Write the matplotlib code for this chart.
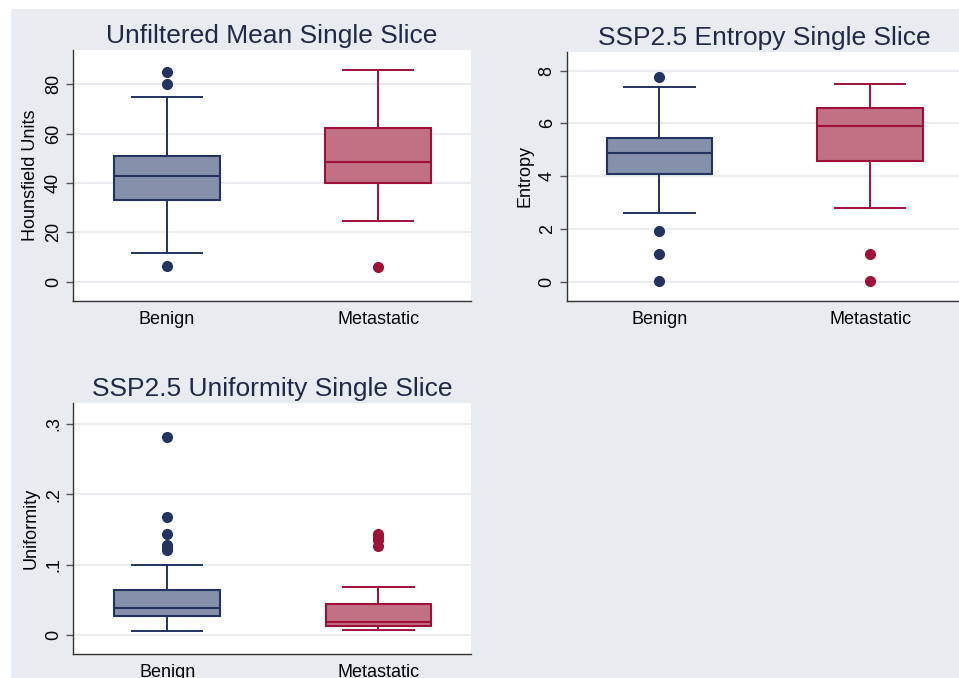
import matplotlib.pyplot as plt
from matplotlib.patches import Rectangle

plt.rcParams.update({"font.family": ["Liberation Sans", "DejaVu Sans"]})

groups = ["Benign", "Metastatic"]

# Unfiltered mean (Hounsfield units)
mean_q1 = [33.0, 40.1]
mean_med = [42.9, 48.6]
mean_q3 = [51.0, 62.1]
mean_lo = [11.6, 24.7]
mean_hi = [75.0, 85.6]
mean_out = [[85.0, 80.3, 6.4], [6.0]]

# SSP2.5 entropy
ent_q1 = [4.09, 4.59]
ent_med = [4.87, 5.90]
ent_q3 = [5.46, 6.60]
ent_lo = [2.59, 2.81]
ent_hi = [7.38, 7.48]
ent_out = [[7.75, 1.93, 1.04, 0.03], [1.04, 0.03]]

# SSP2.5 uniformity
uni_q1 = [0.027, 0.0133]
uni_med = [0.038, 0.0185]
uni_q3 = [0.064, 0.0436]
uni_lo = [0.0057, 0.0066]
uni_hi = [0.100, 0.0687]
uni_out = [[0.2815, 0.168, 0.1436, 0.128, 0.124, 0.121], [0.143, 0.139, 0.135, 0.127]]

fill_colors = ["#8590aa", "#c27083"]
edge_colors = ["#22335f", "#9e1038"]
bg = "#e8ecf1"
title_color = "#1f2a48"


def stats_for(q1, med, q3, lo, hi, out):
    return [
        {"q1": q1[i], "med": med[i], "q3": q3[i], "whislo": lo[i], "whishi": hi[i],
         "fliers": out[i], "label": groups[i]}
        for i in range(len(groups))
    ]


def draw_panel(ax, stats, title, ylabel, yticks, yticklabels, ylim, xlim):
    for i, st in enumerate(stats):
        ec = edge_colors[i]
        ax.bxp(
            [st],
            positions=[i + 1],
            widths=0.5,
            patch_artist=True,
            showfliers=True,
            boxprops=dict(facecolor=fill_colors[i], edgecolor=ec, linewidth=1.5),
            medianprops=dict(color=ec, linewidth=1.5),
            whiskerprops=dict(color=ec, linewidth=1.4),
            capprops=dict(color=ec, linewidth=1.4),
            capwidths=0.333,
            flierprops=dict(marker="o", markerfacecolor=ec, markeredgecolor=ec, markersize=7),
        )
    ax.set_xlim(*xlim)
    ax.set_ylim(*ylim)
    ax.set_xticks([1, 2])
    ax.set_xticklabels(groups, fontsize=13)
    ax.set_yticks(yticks)
    ax.set_yticklabels(yticklabels, fontsize=13, rotation=90, va="center")
    ax.tick_params(axis="x", length=0, pad=7)
    ax.tick_params(axis="y", length=5, width=1, color="#555555", pad=3)
    ax.yaxis.grid(True, color=bg, linewidth=1.5)
    ax.set_axisbelow(True)
    for s in ["top", "right"]:
        ax.spines[s].set_visible(False)
    for s in ["left", "bottom"]:
        ax.spines[s].set_color("#333333")
        ax.spines[s].set_linewidth(1.0)
    ax.set_ylabel(ylabel, fontsize=13)
    ax.set_title(title, fontsize=19, color=title_color, pad=5)
    ax.set_facecolor("white")


fig = plt.figure(figsize=(9.59, 6.78), dpi=100, facecolor="white")
fig.patches.append(Rectangle((11 / 959, 0), 1, (678 - 9) / 678, transform=fig.transFigure,
                             facecolor=bg, edgecolor="none", zorder=-10))

ax1 = fig.add_axes([0.0761, 0.556, 0.415, 0.370])
ax2 = fig.add_axes([0.591, 0.556, 0.413, 0.368])
ax3 = fig.add_axes([0.0764, 0.0354, 0.415, 0.370])

draw_panel(ax1, stats_for(mean_q1, mean_med, mean_q3, mean_lo, mean_hi, mean_out),
           "Unfiltered Mean Single Slice", "Hounsfield Units",
           [0, 20, 40, 60, 80], ["0", "20", "40", "60", "80"], (-7.8, 93.8), (0.555, 2.44))
draw_panel(ax2, stats_for(ent_q1, ent_med, ent_q3, ent_lo, ent_hi, ent_out),
           "SSP2.5 Entropy Single Slice", "Entropy",
           [0, 2, 4, 6, 8], ["0", "2", "4", "6", "8"], (-0.73, 8.72), (0.56, 2.44))
draw_panel(ax3, stats_for(uni_q1, uni_med, uni_q3, uni_lo, uni_hi, uni_out),
           "SSP2.5 Uniformity Single Slice", "Uniformity",
           [0, 0.1, 0.2, 0.3], ["0", ".1", ".2", ".3"], (-0.027, 0.3294), (0.555, 2.44))

fig.savefig("out.png", dpi=100, facecolor=fig.get_facecolor())
